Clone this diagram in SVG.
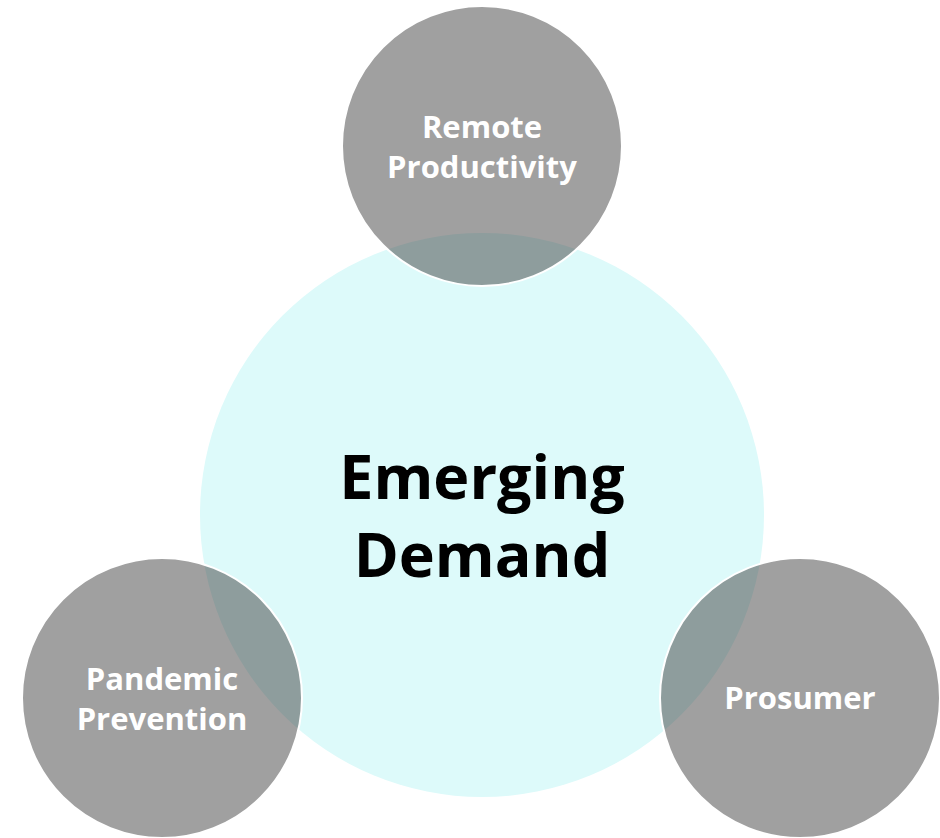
<svg xmlns="http://www.w3.org/2000/svg" width="940" height="838" viewBox="0 0 940 838">
<style>
.big{fill:#DDFAFA}
.sat{fill:#353535;fill-opacity:0.47;stroke:#FFFFFF;stroke-width:2}
.lbl{font-family:"Open Sans","Liberation Sans",sans-serif;font-weight:bold;font-size:31px;fill:#FFFFFF;text-anchor:middle}
.ctr{font-family:"Open Sans","Liberation Sans",sans-serif;font-weight:bold;font-size:61px;fill:#000000;text-anchor:middle}
</style>
<rect width="940" height="838" fill="#FFFFFF"/>
<g id="center">
<circle class="big" cx="482" cy="515" r="282"/>
<text class="ctr" x="482" y="499">Emerging</text>
<text class="ctr" x="482" y="577">Demand</text>
</g>
<g id="remote">
<circle class="sat" cx="482" cy="146" r="140"/>
<text class="lbl" x="482" y="138">Remote</text>
<text class="lbl" x="482" y="178">Productivity</text>
</g>
<g id="pandemic">
<circle class="sat" cx="162" cy="698" r="140"/>
<text class="lbl" x="162" y="690">Pandemic</text>
<text class="lbl" x="162" y="730">Prevention</text>
</g>
<g id="prosumer">
<circle class="sat" cx="800" cy="698" r="140"/>
<text class="lbl" x="800" y="709">Prosumer</text>
</g>
<g id="connectors"></g>
</svg>
